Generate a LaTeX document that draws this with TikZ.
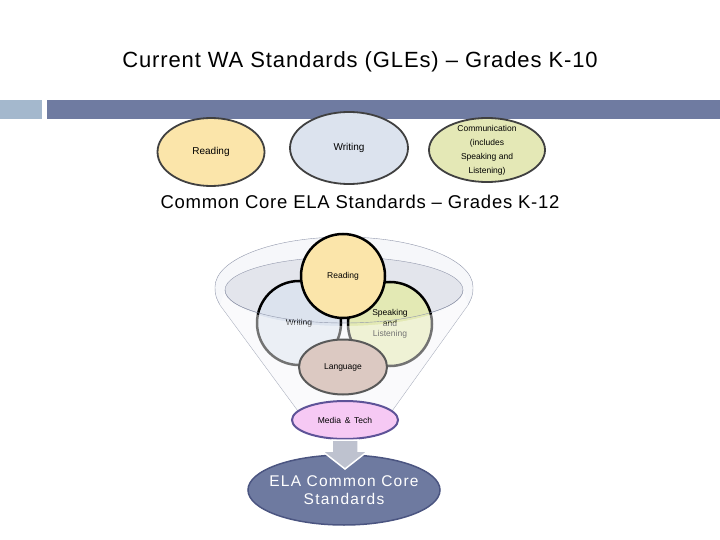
\documentclass[tikz,border=0pt]{standalone}
\usepackage{fontspec}
\setmainfont{Liberation Sans}
\usetikzlibrary{shapes.geometric}
\definecolor{barlight}{HTML}{A4B8CD}
\definecolor{bardark}{HTML}{6F7BA1}
\definecolor{readfill}{HTML}{FBE5AA}
\definecolor{writefill}{HTML}{DCE3EE}
\definecolor{commfill}{HTML}{E4E8B6}
\definecolor{speakfill}{HTML}{E3E9B4}
\definecolor{langfill}{HTML}{DCC9C2}
\definecolor{mediafill}{HTML}{F6C9F4}
\definecolor{mediaedge}{HTML}{5E5398}
\definecolor{funnelline}{HTML}{9298AC}
\definecolor{funnelbody}{HTML}{F6F7FA}
\definecolor{funnelin}{HTML}{E3E5EC}
\definecolor{arrowgrey}{HTML}{BEC2CF}
\definecolor{elafill}{HTML}{6E7AA0}
\definecolor{elaedge}{HTML}{4B5581}
\begin{document}
\begin{tikzpicture}[x=1pt,y=-1pt,
    oldarea/.style={ellipse,draw=black!75,line width=1.8pt,inner sep=0pt,align=center,font=\fontsize{10}{12}\selectfont},
    ccarea/.style={circle,draw=black,line width=2.5pt,minimum size=84pt,inner sep=0pt,align=center,font=\fontsize{8.5}{10.5}\selectfont}]
    \useasboundingbox (0,0) rectangle (720,540);
    \fill[white] (0,0) rectangle (720,540);
    \node[font=\fontsize{22}{26}\selectfont\addfontfeature{LetterSpace=4}] (oldtitle) at (360,62) {Current WA Standards (GLEs) -- Grades K-10};
    \fill[barlight] (0,100) rectangle (42,119);
    \fill[bardark] (47,100) rectangle (720,119);
    \node[oldarea,fill=readfill,minimum width=107pt,minimum height=68pt] (oldread) at (211,152) {Reading};
    \node[oldarea,fill=writefill,minimum width=118pt,minimum height=72pt] (oldwrite) at (349,148) {Writing};
    \node[oldarea,fill=commfill,minimum width=116pt,minimum height=64pt,inner ysep=-4pt,font=\fontsize{8.5}{14}\selectfont] (oldcomm) at (487,150) {Communication\\(includes\\Speaking and\\Listening)};
    \node[font=\fontsize{18.5}{22}\selectfont\addfontfeature{LetterSpace=4}] (cctitle) at (360,202) {Common Core ELA Standards -- Grades K-12};
    \coordinate (rimleft) at (215,287);
    \coordinate (funnelL) at (298,411);
    \coordinate (funnelR) at (392,411);
    \draw[funnelline,fill=funnelbody] (rimleft) arc[start angle=180,end angle=360,x radius=129,y radius=50]
        .. controls +(0,10) and +(3,-6) .. (468,305) -- (funnelR) -- (funnelL) -- (220,305) .. controls +(-3,-6) and +(0,10) .. (rimleft);
    \draw[funnelline,fill=funnelin] (344,290) ellipse[x radius=119,y radius=33];
    \node[ccarea,fill=writefill] (ccwrite) at (299,323) {Writing};
    \node[ccarea,fill=speakfill] (ccspeak) at (390,324) {Speaking\\and\\Listening};
    \node[ccarea,fill=readfill] (ccread) at (343,276) {Reading};
    \fill[white,fill opacity=.45] (225,290) arc[start angle=180,end angle=0,x radius=119,y radius=36]
        -- (468,305) -- (funnelR) -- (funnelL) -- (220,305) -- cycle;
    \draw[funnelline] (225,290) arc[start angle=180,end angle=0,x radius=119,y radius=33];
    \node[ellipse,draw=black!65,line width=2pt,fill=langfill,minimum width=88pt,minimum height=55pt,inner sep=0pt,font=\fontsize{8.5}{10.5}\selectfont] (cclang) at (343,367) {Language};
    \node[ellipse,draw=mediaedge,line width=2pt,fill=mediafill,minimum width=106pt,minimum height=38pt,inner sep=0pt,font=\fontsize{8.5}{10}\selectfont] (ccmedia) at (345,420) {Media \,\&\, Tech};
    \node[ellipse,draw=elaedge,line width=1.5pt,fill=elafill,minimum width=192pt,minimum height=70pt,inner xsep=-8pt,inner ysep=0pt,text=white,align=center,font=\fontsize{15.5}{18}\selectfont\addfontfeature{LetterSpace=8}] (ccela) at (344,490) {ELA Common Core\\Standards};
    \draw[white,line width=1.5pt,fill=arrowgrey] ([xshift=-13pt]ccmedia.south) -- ++(26,0) -- ++(0,11) -- ++(10,0) -- ++(-23,18) -- ++(-23,-18) -- ++(10,0) -- cycle;
\end{tikzpicture}
\end{document}
